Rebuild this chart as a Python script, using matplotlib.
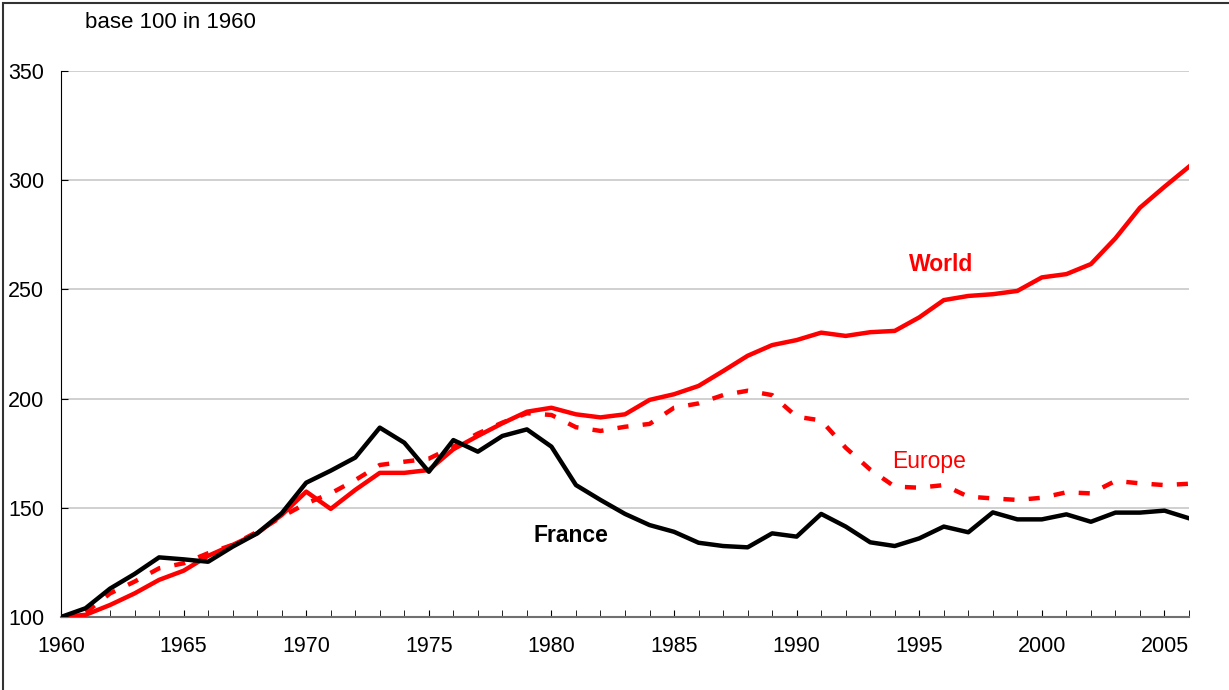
import matplotlib.pyplot as plt
from matplotlib.patches import Rectangle

years = list(range(1960, 2007))

france = [100, 104, 113, 119.7, 127.3, 126.4, 125.3, 132.2, 138.3, 147.5,
          161.5, 167, 173, 186.7, 179.8, 166.5, 181, 175.7, 182.9, 185.9,
          178, 160.4, 153.6, 147.2, 142.1, 139, 134, 132.5, 131.9, 138.3,
          136.8, 147.2, 141.4, 134.2, 132.5, 136, 141.4, 138.8, 147.9, 144.7,
          144.7, 147, 143.6, 147.8, 147.8, 148.7, 145.2]

world = [100, 101, 105.5, 110.8, 117, 121.2, 128, 133, 138.3, 146.7,
         157.4, 149.5, 158.2, 166, 166, 167.3, 176.8, 182.9, 188.7, 194,
         195.8, 192.8, 191.4, 192.8, 199.4, 202, 205.8, 212.6, 219.6, 224.5,
         226.8, 230.2, 228.7, 230.4, 231, 237.2, 245.1, 247, 247.8, 249.3,
         255.5, 257, 261.6, 273.4, 287.4, 297, 306.2]

europe = [100, 102, 110.8, 116.2, 122.3, 124.6, 129.2, 133, 139, 145.9,
          152, 156.6, 162.7, 169.6, 171.1, 172.5, 178, 184, 189, 193.3,
          192.5, 186.9, 185.2, 187.1, 188.4, 195.8, 197.8, 201.6, 203.6, 201.6,
          191.7, 190, 177.5, 167.5, 159.7, 159.2, 160.4, 155.1, 154.3, 153.6,
          154.6, 157.1, 156.6, 162.3, 161.2, 160.4, 161]

yticks = [100, 150, 200, 250, 300, 350]
xlabels = [1960, 1965, 1970, 1975, 1980, 1985, 1990, 1995, 2000, 2005]

plt.rcParams['font.family'] = ['Liberation Sans', 'DejaVu Sans']

fig = plt.figure(figsize=(12.29, 6.9), dpi=100, facecolor='w')
ax = fig.add_axes([61 / 1229, 1 - 617 / 690, (1189 - 61) / 1229, (617 - 71) / 690])

# marco exterior
fig.patches.append(Rectangle((3 / 1229, -0.1), 1.2, 1.1 - 3 / 690, transform=fig.transFigure,
                             fill=False, edgecolor='#333333', linewidth=1.5))

ax.plot(years, europe, color='#ff0000', linewidth=3.2, linestyle=(0, (2.5, 3.2)), zorder=3)
ax.plot(years, world, color='#ff0000', linewidth=3.2, zorder=4, solid_joinstyle='round')
ax.plot(years, france, color='black', linewidth=3.2, zorder=5, solid_joinstyle='round')

ax.set_xlim(1960, 2006)
ax.set_ylim(100, 350)
ax.set_yticks(yticks)
ax.set_xticks(xlabels)
ax.set_xticks(years, minor=True)
ax.grid(axis='y', color='#c8c8c8', linewidth=1.2)
ax.set_axisbelow(True)

for s in ['top', 'right']:
    ax.spines[s].set_visible(False)
ax.spines['left'].set_color('black')
ax.spines['bottom'].set_color('#707070')
ax.spines['bottom'].set_linewidth(1.5)

ax.tick_params(axis='x', which='both', direction='in', length=5, color='black', labelsize=15.5, pad=14)
ax.tick_params(axis='y', direction='in', length=5, color='black', labelsize=15.5, pad=12)

ax.text(1995.9, 261.2, 'World', color='#ff0000', fontsize=16.5, fontweight='bold', ha='center', va='center')
ax.text(1995.4, 171.4, 'Europe', color='#ff0000', fontsize=16.5, ha='center', va='center')
ax.text(1980.8, 137.1, 'France', color='black', fontsize=16.5, fontweight='bold', ha='center', va='center')

fig.text(85 / 1229, 1 - 22 / 690, 'base 100 in 1960', fontsize=16, ha='left', va='center')

fig.savefig('out.png', dpi=100)
